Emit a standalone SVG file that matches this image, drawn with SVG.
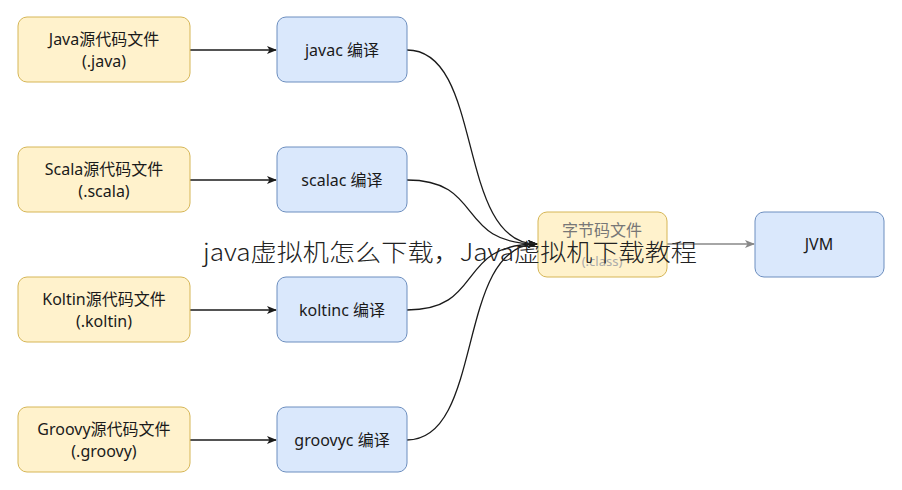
<svg xmlns="http://www.w3.org/2000/svg" width="902" height="490" viewBox="0 0 902 490">
<style>
.src{fill:#fff2cc;stroke:#d6b656;stroke-width:1}
.cmp{fill:#dae8fc;stroke:#6c8ebf;stroke-width:1}
text{font-family:"Noto Sans","Noto Sans CJK SC",sans-serif;font-size:16px;fill:#1a1a1a;text-anchor:middle}
.c{fill:none;stroke:#1a1a1a;stroke-width:1.3}
.wm{font-family:"Noto Sans CJK SC",sans-serif;font-weight:300;font-size:24px;fill:#222;text-anchor:start}
</style>
<defs><marker id="a" markerWidth="10" markerHeight="10" refX="9" refY="5" orient="auto" markerUnits="userSpaceOnUse"><path d="M0,1 L10,5 L0,9 L2.5,5 Z" fill="#1a1a1a"/></marker>
<marker id="g" markerWidth="10" markerHeight="10" refX="9" refY="5" orient="auto" markerUnits="userSpaceOnUse"><path d="M0,1 L10,5 L0,9 L2.5,5 Z" fill="#888"/></marker></defs>
<rect width="902" height="490" fill="#fff"/>
<g id="connectors">
<path class="c" d="M190,50 H276" marker-end="url(#a)"/>
<path class="c" d="M190,180 H276" marker-end="url(#a)"/>
<path class="c" d="M190,310 H276" marker-end="url(#a)"/>
<path class="c" d="M190,440 H276" marker-end="url(#a)"/>
<path class="c" d="M407,50 C485,50 455,244 537,244" marker-end="url(#a)"/>
<path class="c" d="M407,180 C485,180 455,244 537,244" marker-end="url(#a)"/>
<path class="c" d="M407,310 C485,310 455,244 537,244" marker-end="url(#a)"/>
<path class="c" d="M407,440 C485,440 455,244 537,244" marker-end="url(#a)"/>
<path d="M667,244 H754" stroke="#888" stroke-width="1.3" fill="none" marker-end="url(#g)"/>
</g>
<g id="n1"><rect class="src" x="18" y="17" width="172" height="65" rx="9"/><text x="104" y="45">Java源代码文件</text><text x="104" y="67">(.java)</text></g>
<g id="n2"><rect class="src" x="18" y="147" width="172" height="65" rx="9"/><text x="104" y="175">Scala源代码文件</text><text x="104" y="197">(.scala)</text></g>
<g id="n3"><rect class="src" x="18" y="277" width="172" height="65" rx="9"/><text x="104" y="305">Koltin源代码文件</text><text x="104" y="327">(.koltin)</text></g>
<g id="n4"><rect class="src" x="18" y="407" width="172" height="65" rx="9"/><text x="104" y="435">Groovy源代码文件</text><text x="104" y="457">(.groovy)</text></g>
<g id="c1"><rect class="cmp" x="277" y="17" width="130" height="65" rx="9"/><text x="342" y="56">javac 编译</text></g>
<g id="c2"><rect class="cmp" x="277" y="147" width="130" height="65" rx="9"/><text x="342" y="186">scalac 编译</text></g>
<g id="c3"><rect class="cmp" x="277" y="277" width="130" height="65" rx="9"/><text x="342" y="316">koltinc 编译</text></g>
<g id="c4"><rect class="cmp" x="277" y="407" width="130" height="65" rx="9"/><text x="342" y="446">groovyc 编译</text></g>
<g id="bc"><rect class="src" x="538" y="212" width="129" height="65" rx="9"/><text x="602" y="236" style="fill:#777">字节码文件</text><text x="602" y="266" style="fill:#aaa;font-size:13px">(.class)</text></g>
<g id="jvm"><rect class="cmp" x="755" y="212" width="129" height="65" rx="9"/><text x="819" y="250">JVM</text></g>
<text class="wm" x="203" y="261" textLength="494" lengthAdjust="spacingAndGlyphs">java虚拟机怎么下载，Java虚拟机下载教程</text>
</svg>
